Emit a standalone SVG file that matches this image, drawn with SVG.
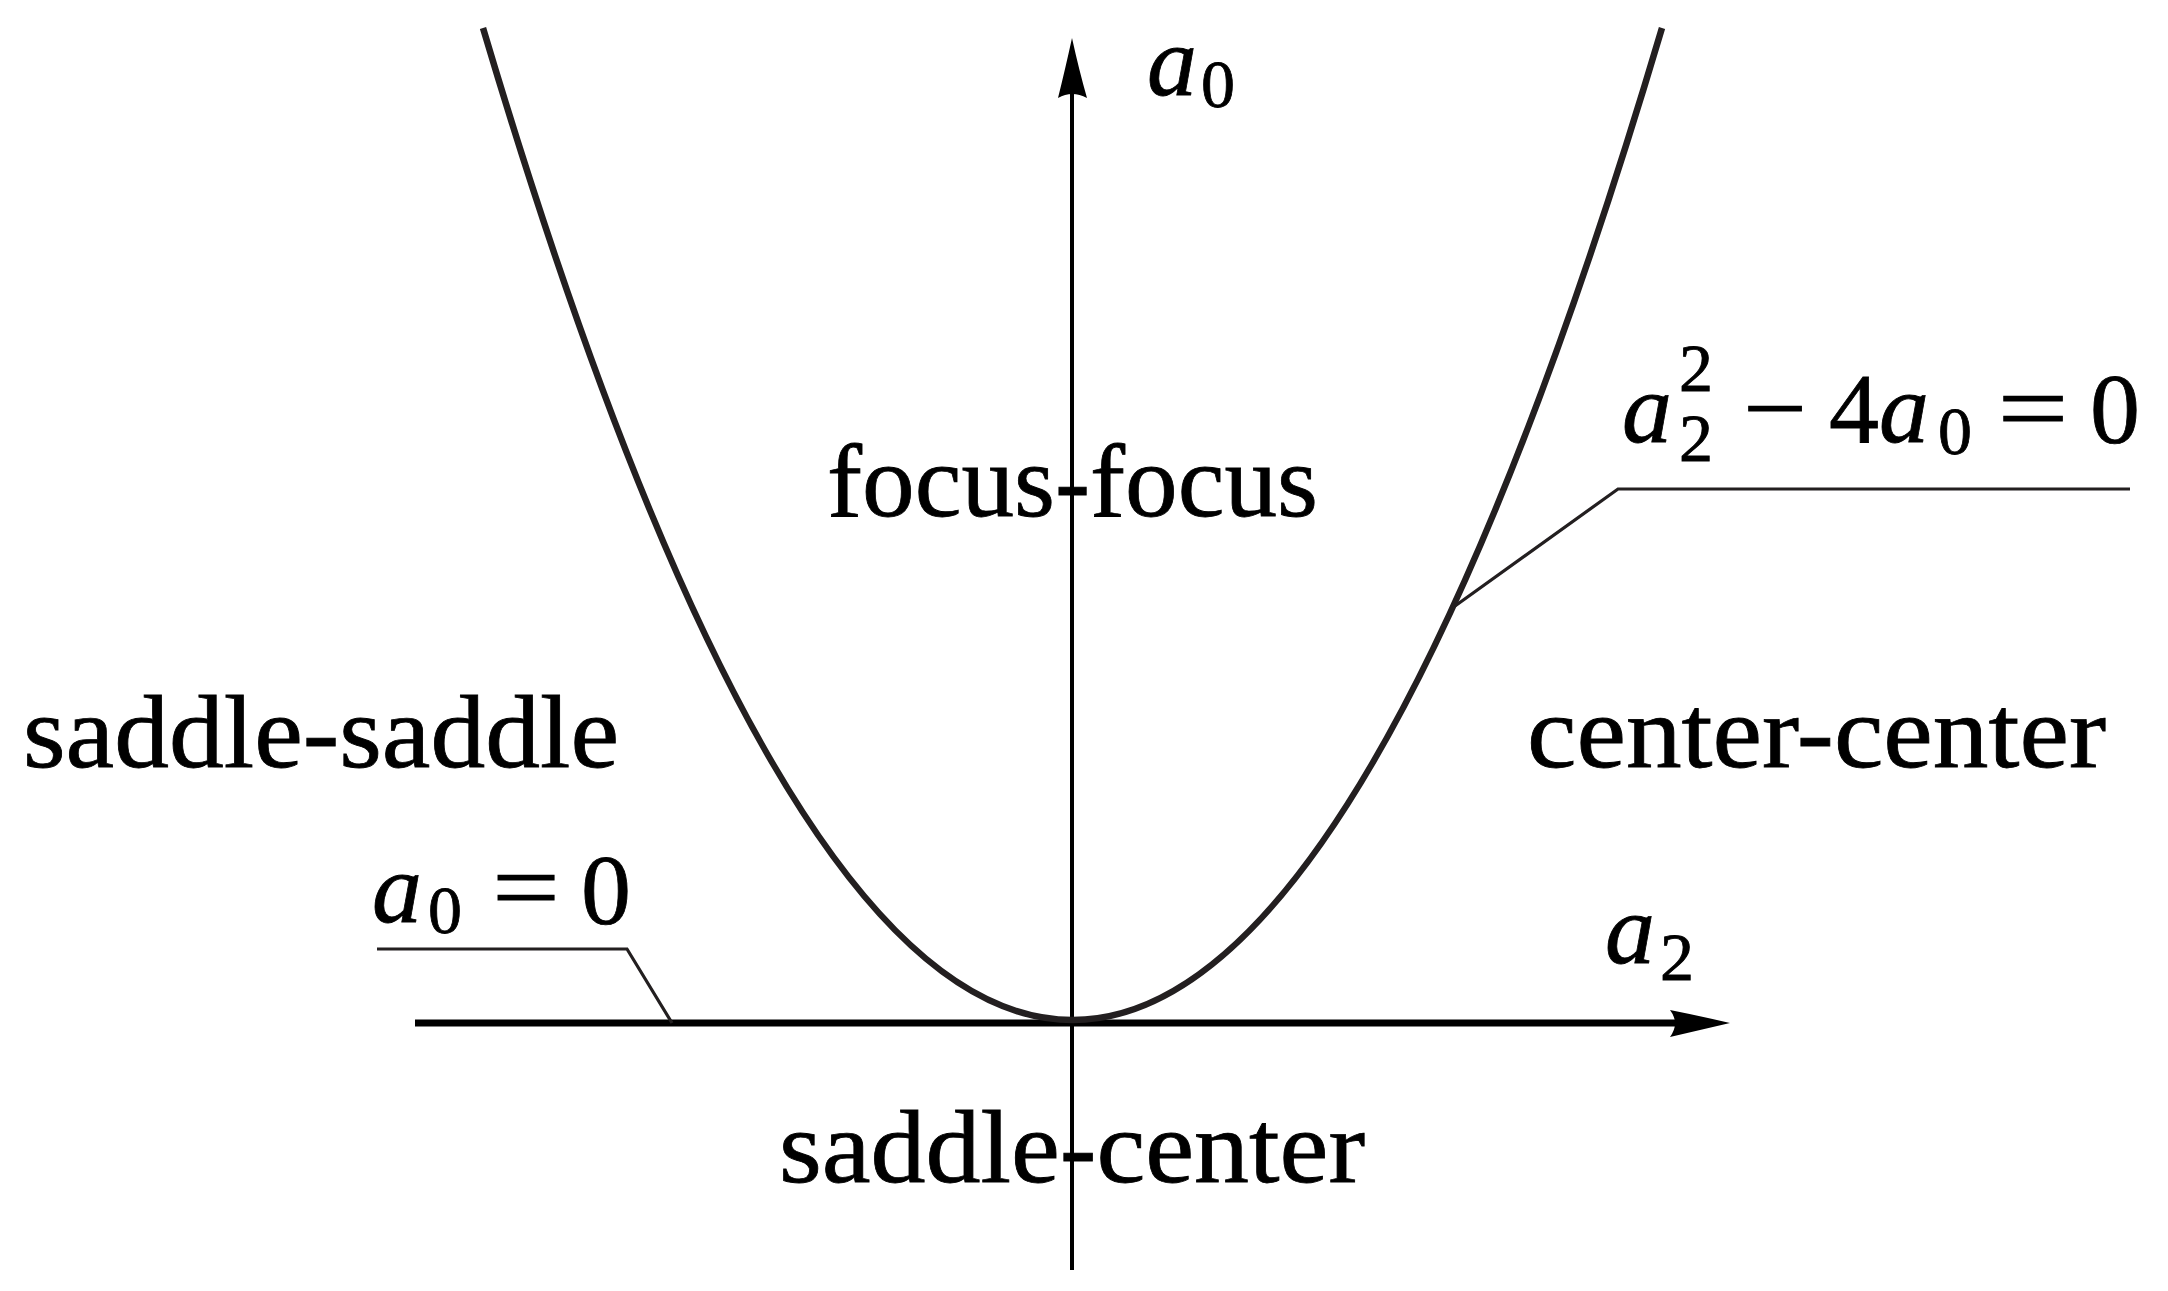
<svg xmlns="http://www.w3.org/2000/svg" width="2168" height="1291" viewBox="0 0 2168 1291">
<style>
text{font-family:'Liberation Serif','Times New Roman',serif;fill:#000;stroke:#000;stroke-width:0.8}
.rm{font-size:104px}
.mi{font-style:italic;font-size:100px;text-anchor:middle}
.mr{font-size:100px;text-anchor:middle}
.sc{font-size:68px;text-anchor:middle}
.axis{stroke:#000;fill:none}
.lead{stroke:#231f20;stroke-width:3.2;fill:none}
</style>
<rect width="2168" height="1291" fill="#fff"/>
<g id="connectors">
  <g id="axes">
    <line class="axis" x1="1072" y1="90" x2="1072" y2="1270" stroke-width="4"/>
    <path d="M1072,38 Q1079,70 1087,98 Q1072,90 1058,98 Q1065,70 1072,38 Z" fill="#000"/>
    <line class="axis" x1="415" y1="1023" x2="1680" y2="1023" stroke-width="7"/>
    <path d="M1730,1023 Q1700,1016 1670,1010 Q1680,1023 1670,1037 Q1700,1030 1730,1023 Z" fill="#000"/>
  </g>
  <path id="parabola" d="M483,28 Q1072.5,2012 1662,28" fill="none" stroke="#231f20" stroke-width="6.5"/>
  <polyline id="leader-a0" class="lead" points="377,949 627,949 672,1023"/>
  <polyline id="leader-disc" class="lead" points="2130,489 1618,489 1455,606"/>
</g>
<g id="label-a0-axis">
  <text class="mi" x="1172" y="95">a</text>
  <text class="sc" x="1218" y="107">0</text>
</g>
<g id="label-a2-axis">
  <text class="mi" x="1630" y="963">a</text>
  <text class="sc" x="1677" y="980">2</text>
</g>
<g id="label-disc">
  <text class="mi" x="1647" y="442">a</text>
  <text class="sc" x="1696" y="391">2</text>
  <text class="sc" x="1696" y="461">2</text>
  <text class="mr" x="1775" y="442" textLength="64" lengthAdjust="spacingAndGlyphs">−</text>
  <text class="mr" x="1854" y="442">4</text>
  <text class="mi" x="1904" y="442">a</text>
  <text class="sc" x="1955" y="454">0</text>
  <text class="mr" x="2033" y="442" textLength="71" lengthAdjust="spacingAndGlyphs">=</text>
  <text class="mr" x="2115" y="442">0</text>
</g>
<g id="label-a0-zero">
  <text class="mi" x="397" y="922">a</text>
  <text class="sc" x="445" y="933">0</text>
  <text class="mr" x="526" y="921" textLength="68" lengthAdjust="spacingAndGlyphs">=</text>
  <text class="mr" x="606" y="923">0</text>
</g>
<g id="region-focus-focus"><text class="rm" x="827" y="516" textLength="491" lengthAdjust="spacingAndGlyphs">focus-focus</text></g>
<g id="region-saddle-saddle"><text class="rm" x="23" y="767" textLength="596" lengthAdjust="spacingAndGlyphs">saddle-saddle</text></g>
<g id="region-center-center"><text class="rm" x="1527" y="767" textLength="579" lengthAdjust="spacingAndGlyphs">center-center</text></g>
<g id="region-saddle-center"><text class="rm" x="779" y="1182" textLength="586" lengthAdjust="spacingAndGlyphs">saddle-center</text></g>
</svg>
